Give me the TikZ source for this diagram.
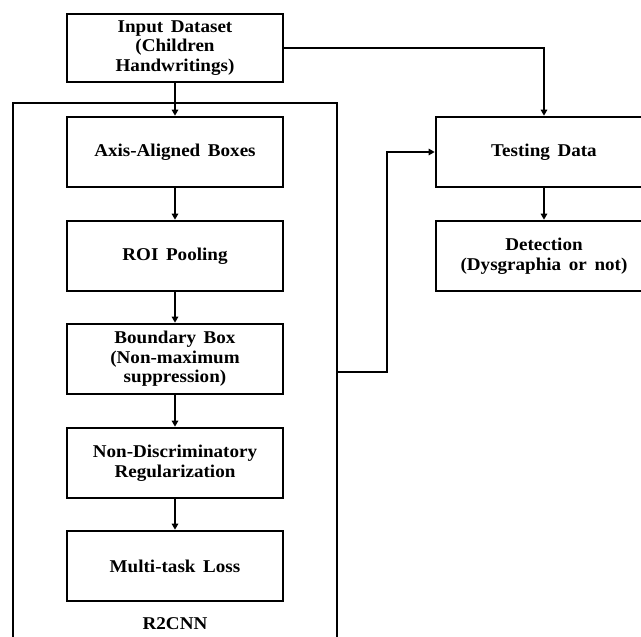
\documentclass[tikz,border=0pt]{standalone}
\usepackage{fontspec}
\setmainfont{Liberation Serif}[FakeStretch=1.06, WordSpace=1.6]
\usetikzlibrary{arrows.meta}
\begin{document}
\begin{tikzpicture}[x=1pt,y=-1pt,
  boxfont/.style={font=\fontsize{18pt}{19.5pt}\selectfont\bfseries},
  stepbox/.style={draw, line width=2.7pt, minimum width=216pt, minimum height=70pt, inner sep=0pt,
    align=center, boxfont},
  conn/.style={line width=2.1pt, -{Triangle[length=6pt,width=6.5pt]}}]
\useasboundingbox (0,0) rectangle (641,637);
\clip (0,0) rectangle (641,637);
\node[draw, line width=2.7pt, minimum width=324pt, minimum height=570pt, inner sep=0pt] (r2cnn) at (175,388) {};
\node[stepbox, minimum height=68pt] (input) at (175,48) {Input Dataset\\(Children\\Handwritings)};
\node[stepbox] (axis) at (175,152) {Axis-Aligned Boxes};
\node[stepbox] (roi) at (175,256) {ROI Pooling};
\node[stepbox] (bbox) at (175,359) {Boundary Box\\(Non-maximum\\suppression)};
\node[stepbox] (nondisc) at (175,463) {Non-Discriminatory\\Regularization};
\node[stepbox] (loss) at (175,566) {Multi-task Loss};
\node[boxfont] (label) at (175,624) {R2CNN};
\node[stepbox] (test) at (544,152) {Testing Data};
\node[stepbox] (detect) at (544,256) {Detection\\(Dysgraphia or not)};
\coordinate (fbstart) at (337,372);
\coordinate (fbturn) at (387,372);
\draw[conn] (input) -- (axis);
\draw[conn] (axis) -- (roi);
\draw[conn] (roi) -- (bbox);
\draw[conn] (bbox) -- (nondisc);
\draw[conn] (nondisc) -- (loss);
\draw[conn] (input.east) -| (test.north);
\draw[conn] (test) -- (detect);
\draw[conn] (fbstart) -- (fbturn) |- (test.west);
\end{tikzpicture}
\end{document}
